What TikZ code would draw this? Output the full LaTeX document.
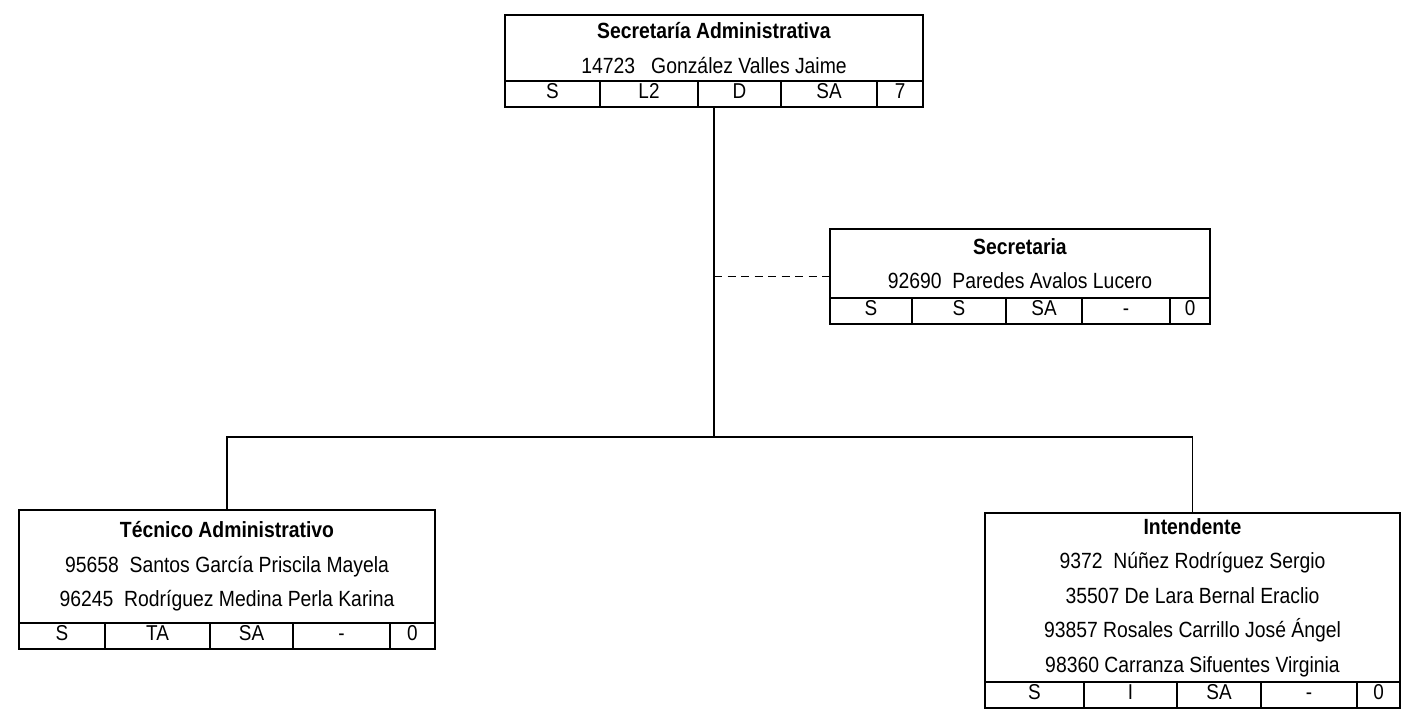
\documentclass[tikz,border=0pt]{standalone}
\usepackage{fontspec}
\setmainfont{Liberation Sans}[FakeStretch=0.88]
\usetikzlibrary{calc,positioning}

\begin{document}
\begin{tikzpicture}[
      x=1pt, y=-1pt,
      node distance=0pt,
      every node/.style={font=\fontsize{22}{34.5}\selectfont, align=center},
      post/.style={rectangle, draw, line width=2pt, inner sep=0pt, outer sep=0pt},
      cell/.style={rectangle, draw, line width=2pt, inner sep=0pt, outer sep=0pt,
            minimum height=26pt, text height=1.6ex, text depth=0pt,
            font=\fontsize{21.5}{24}\selectfont},
      line/.style={line width=1.1pt},
      staff/.style={line, dash pattern=on 8pt off 5.5pt}
]
\useasboundingbox (0,0) rectangle (1402,714);

% Secretaria Administrativa
\node[post, anchor=north west, minimum width=418pt, minimum height=66pt] (admin) at (505,15)
      {\textbf{Secretaría Administrativa}\\14723\ \ \ González Valles Jaime};
\node[cell, minimum width=95pt, below right=of admin.south west] (admin1) {S};
\node[cell, minimum width=98pt, right=of admin1] (admin2) {L2};
\node[cell, minimum width=83pt, right=of admin2] (admin3) {D};
\node[cell, minimum width=96pt, right=of admin3] (admin4) {SA};
\node[cell, minimum width=46pt, right=of admin4] (admin5) {7};

% Secretaria
\node[post, anchor=north west, minimum width=380pt, minimum height=69pt] (secre) at (830,229)
      {\textbf{Secretaria}\\92690\ \ Paredes Avalos Lucero};
\node[cell, minimum width=82pt, below right=of secre.south west] (secre1) {S};
\node[cell, minimum width=94pt, right=of secre1] (secre2) {S};
\node[cell, minimum width=76pt, right=of secre2] (secre3) {SA};
\node[cell, minimum width=88pt, right=of secre3] (secre4) {-};
\node[cell, minimum width=40pt, right=of secre4] (secre5) {0};

% Tecnico Administrativo
\node[post, anchor=north west, minimum width=416pt, minimum height=113pt] (tecnico) at (19,510)
      {\textbf{Técnico Administrativo}\\95658\ \ Santos García Priscila Mayela\\
       96245\ \ Rodríguez Medina Perla Karina};
\node[cell, minimum width=86pt, below right=of tecnico.south west] (tecnico1) {S};
\node[cell, minimum width=105pt, right=of tecnico1] (tecnico2) {TA};
\node[cell, minimum width=83pt, right=of tecnico2] (tecnico3) {SA};
\node[cell, minimum width=97pt, right=of tecnico3] (tecnico4) {-};
\node[cell, minimum width=45pt, right=of tecnico4] (tecnico5) {0};

% Intendente
\node[post, anchor=north west, minimum width=415pt, minimum height=169pt] (intend) at (985,513)
      {\textbf{Intendente}\\9372\ \ Núñez Rodríguez Sergio\\35507 De Lara Bernal Eraclio\\
       93857 Rosales Carrillo José Ángel\\98360 Carranza Sifuentes Virginia};
\node[cell, minimum width=99pt, below right=of intend.south west] (intend1) {S};
\node[cell, minimum width=93pt, right=of intend1] (intend2) {I};
\node[cell, minimum width=84pt, right=of intend2] (intend3) {SA};
\node[cell, minimum width=96pt, right=of intend3] (intend4) {-};
\node[cell, minimum width=43pt, right=of intend4] (intend5) {0};

\coordinate (bus) at (714,437);
\coordinate (secreleft) at ($(secre.north west)!0.5!(secre1.south west)$);

\draw[line] (admin.south |- admin3.south) -- (bus);
\draw[line] (tecnico.north) |- (bus) -| (intend.north);
\draw[staff] (secreleft -| admin.south) -- (secreleft);
\end{tikzpicture}
\end{document}
